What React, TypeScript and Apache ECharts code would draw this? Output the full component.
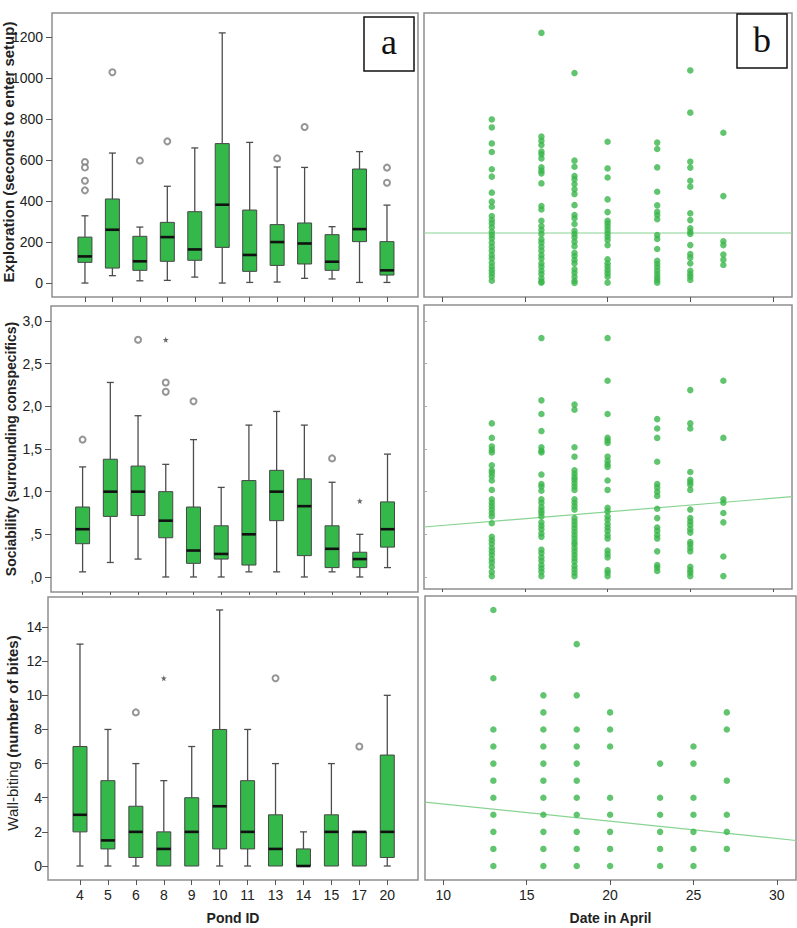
import React, { useEffect, useRef } from "react";
import * as echarts from "echarts";

// ---- Box plots by pond ----
const pondIds = ["4", "5", "6", "8", "9", "10", "11", "13", "14", "15", "17", "20"];

// [min, Q1, median, Q3, max] for each pond
const explorationBoxes = [
  [0, 101, 130, 224, 328],
  [36, 73, 260, 410, 634],
  [11, 62, 106, 228, 273],
  [13, 106, 224, 296, 472],
  [29, 111, 164, 348, 659],
  [0, 174, 382, 680, 1220],
  [3, 57, 137, 356, 686],
  [5, 86, 200, 285, 566],
  [23, 93, 193, 293, 564],
  [20, 62, 104, 236, 275],
  [3, 202, 263, 556, 641],
  [3, 39, 62, 202, 380],
];
// [pond index, value]
const explorationOutliers = [
  [0, 590], [0, 564], [0, 499], [0, 452], [1, 1028], [2, 597], [3, 691],
  [7, 608], [8, 761], [11, 563], [11, 489],
];
const explorationExtremes: number[][] = [];

const sociabilityBoxes = [
  [0.06, 0.39, 0.56, 0.82, 1.29],
  [0.17, 0.71, 1.0, 1.38, 2.28],
  [0.21, 0.72, 1.0, 1.3, 1.89],
  [0, 0.46, 0.66, 1.0, 1.32],
  [0, 0.16, 0.31, 0.82, 1.61],
  [0, 0.21, 0.27, 0.6, 1.05],
  [0.06, 0.14, 0.5, 1.13, 1.78],
  [0.06, 0.66, 1.0, 1.25, 1.94],
  [0, 0.25, 0.83, 1.15, 1.78],
  [0.06, 0.11, 0.33, 0.6, 1.11],
  [0, 0.11, 0.21, 0.29, 0.5],
  [0.11, 0.35, 0.56, 0.88, 1.44],
];
const sociabilityOutliers = [[0, 1.61], [2, 2.78], [3, 2.28], [3, 2.17], [4, 2.06], [9, 1.39]];
const sociabilityExtremes = [[3, 2.78], [10, 0.89]];

const wallBitingBoxes = [
  [0, 2, 3, 7, 13],
  [0, 1, 1.5, 5, 8],
  [0, 0.5, 2, 3.5, 6],
  [0, 0, 1, 2, 5],
  [0, 0, 2, 4, 7],
  [0, 1, 3.5, 8, 15],
  [0, 1, 2, 5, 8],
  [0, 0, 1, 3, 6],
  [0, 0, 0, 1, 2],
  [0, 0, 2, 3, 6],
  [0, 0, 2, 2, 2],
  [0, 0.5, 2, 6.5, 10],
];
const wallBitingOutliers = [[2, 9], [7, 11], [10, 7]];
const wallBitingExtremes = [[3, 11]];

// ---- Individual scores by date ----
const surveyDays = [13, 16, 18, 20, 23, 25, 27];

const explorationByDay = [
  [798, 759, 681, 639, 555, 519, 441, 397, 372, 327, 307, 291, 272, 250, 234, 218, 197, 177, 158, 137, 120, 99, 80, 63, 47, 31, 11],
  [1220, 714, 694, 673, 641, 628, 608, 564, 548, 535, 486, 376, 359, 304, 278, 259, 239, 213, 197, 177, 158, 137, 120, 96, 80, 60, 44, 23, 7, 2],
  [1024, 597, 567, 522, 506, 483, 457, 434, 380, 332, 316, 288, 255, 239, 223, 202, 180, 148, 132, 112, 96, 67, 50, 31, 11, 0],
  [689, 559, 515, 408, 346, 304, 291, 275, 259, 242, 226, 210, 185, 116, 96, 80, 63, 47, 31, 2],
  [685, 654, 564, 445, 379, 348, 332, 311, 234, 215, 166, 109, 93, 77, 60, 44, 28, 15, 2],
  [1037, 831, 592, 563, 499, 470, 340, 307, 267, 250, 239, 185, 141, 124, 96, 60, 44, 31, 15],
  [733, 424, 204, 185, 139, 114, 88],
];

const sociabilityByDay = [
  [1.8, 1.63, 1.53, 1.49, 1.46, 1.31, 1.25, 1.22, 1.18, 1.13, 1.02, 0.91, 0.87, 0.83, 0.79, 0.75, 0.71, 0.63, 0.47, 0.43, 0.39, 0.34, 0.3, 0.26, 0.21, 0.17, 0.12, 0.06, 0.01],
  [2.8, 2.07, 1.91, 1.71, 1.52, 1.48, 1.46, 1.2, 1.09, 1.06, 1.01, 0.91, 0.87, 0.82, 0.78, 0.75, 0.71, 0.64, 0.6, 0.56, 0.51, 0.47, 0.32, 0.28, 0.23, 0.19, 0.14, 0.1, 0.06, 0.01],
  [2.02, 1.96, 1.52, 1.41, 1.25, 1.21, 1.17, 1.14, 1.1, 1.06, 1.02, 0.91, 0.87, 0.83, 0.79, 0.69, 0.65, 0.61, 0.57, 0.53, 0.49, 0.45, 0.41, 0.38, 0.34, 0.3, 0.26, 0.22, 0.18, 0.13, 0.09, 0.05, 0.01],
  [2.8, 2.3, 1.91, 1.63, 1.6, 1.57, 1.41, 1.36, 1.32, 1.29, 1.13, 1.02, 0.81, 0.77, 0.71, 0.67, 0.62, 0.58, 0.54, 0.49, 0.45, 0.31, 0.27, 0.23, 0.08, 0.05, 0.01],
  [1.85, 1.74, 1.63, 1.35, 1.09, 1.05, 1.0, 0.95, 0.8, 0.69, 0.58, 0.54, 0.49, 0.45, 0.3, 0.14, 0.11, 0.07],
  [2.19, 1.8, 1.74, 1.23, 1.14, 1.11, 1.08, 1.02, 0.79, 0.69, 0.65, 0.61, 0.56, 0.52, 0.41, 0.38, 0.34, 0.3, 0.12, 0.08, 0.05, 0.01],
  [2.3, 1.63, 0.91, 0.87, 0.75, 0.64, 0.24, 0.01],
];

const wallBitingByDay = [
  [15, 11, 8, 7, 6, 5, 4, 3, 2, 1, 0],
  [10, 9, 8, 7, 6, 5, 4, 3, 2, 1, 0],
  [13, 10, 8, 7, 6, 5, 4, 3, 2, 1, 0],
  [9, 8, 7, 4, 3, 2, 1, 0],
  [6, 4, 3, 2, 1, 0],
  [7, 6, 4, 3, 2, 1, 0],
  [9, 8, 5, 3, 2, 1],
];

// linear fits: value = intercept + slope * day
const fitIntercepts = [244, 0.444, 4.65];
const fitSlopes = [0, 0.01595, -0.1013];

const FONT = "'Liberation Sans', Arial, Helvetica, sans-serif";
const BOX_GREEN = "#34b84a";
const DOT_GREEN = "#39b54a";
const FIT_GREEN = "#88d492";
const FRAME = "#8e8e8e";
const DAY_MIN = 8.9;
const DAY_MAX = 31.15;

const commaDecimal = (v: number) => {
  const s = v.toFixed(1).replace(".", ",");
  return s.startsWith("0") ? s.slice(1) : s;
};

function boxRenderer(params: any, api: any) {
  const i = api.value(0);
  const lo = api.coord([i, api.value(1)]);
  const q1 = api.coord([i, api.value(2)]);
  const md = api.coord([i, api.value(3)]);
  const q3 = api.coord([i, api.value(4)]);
  const hi = api.coord([i, api.value(5)]);
  const x = lo[0];
  const hw = 7;
  const cw = 3.5;
  const whisker = { stroke: "#4d4d4d", lineWidth: 1.3 };
  const children: any[] = [];
  if (hi[1] < q3[1]) {
    children.push({ type: "line", shape: { x1: x, y1: hi[1], x2: x, y2: q3[1] }, style: whisker });
    children.push({ type: "line", shape: { x1: x - cw, y1: hi[1], x2: x + cw, y2: hi[1] }, style: whisker });
  }
  if (lo[1] > q1[1]) {
    children.push({ type: "line", shape: { x1: x, y1: q1[1], x2: x, y2: lo[1] }, style: whisker });
    children.push({ type: "line", shape: { x1: x - cw, y1: lo[1], x2: x + cw, y2: lo[1] }, style: whisker });
  }
  children.push({
    type: "rect",
    shape: { x: x - hw, y: q3[1], width: hw * 2, height: Math.max(q1[1] - q3[1], 1) },
    style: { fill: BOX_GREEN, stroke: "#474747", lineWidth: 1 },
  });
  children.push({
    type: "line",
    shape: { x1: x - hw, y1: md[1], x2: x + hw, y2: md[1] },
    style: { stroke: "#111", lineWidth: 2.6 },
  });
  return { type: "group", children };
}

const STAR =
  "path://M0,-5L1.2,-1.6L4.8,-1.6L1.9,0.6L2.9,4L0,2L-2.9,4L-1.9,0.6L-4.8,-1.6L-1.2,-1.6Z";

export default function App() {
  const ref = useRef<HTMLDivElement>(null);

  useEffect(() => {
    if (!ref.current) return;
    const chart = echarts.init(ref.current, undefined, { renderer: "svg" });

    const grids = [
      { left: 52, top: 13, width: 366, height: 284 },
      { left: 424, top: 13, width: 368, height: 284 },
      { left: 51, top: 306, width: 367, height: 286 },
      { left: 424, top: 305, width: 368, height: 284 },
      { left: 48, top: 597, width: 370, height: 283 },
      { left: 425, top: 596, width: 371, height: 284 },
    ].map((g) => ({ ...g, show: true, borderColor: FRAME, borderWidth: 1.5, backgroundColor: "#fff" }));

    const pondIdx = pondIds.map((_, i) => i);
    const dayTicks = [10, 15, 20, 25, 30];
    const pondRanges = [
      [-1.2, 12.13],
      [-1.14, 12.1],
      [-1.145, 12.1],
    ];

    const labelStyle = { color: "#222", fontSize: 14, fontFamily: FONT };
    const tickStyle = { lineStyle: { color: "#555", width: 1 } };

    const xAxis: any[] = [];
    for (let r = 0; r < 3; r++) {
      const last = r === 2;
      xAxis.push({
        type: "value",
        gridIndex: r * 2,
        position: "bottom",
        min: pondRanges[r][0],
        max: pondRanges[r][1],
        splitLine: { show: false },
        axisLine: { show: false, onZero: false },
        axisTick: { show: true, length: r === 1 ? 3 : 5, customValues: pondIdx, ...tickStyle },
        axisLabel: {
          show: last,
          customValues: pondIdx,
          formatter: (v: number) => pondIds[Math.round(v)],
          margin: 8,
          ...labelStyle,
        },
        name: last ? "Pond ID" : "",
        nameLocation: "middle",
        nameGap: 31,
        nameTextStyle: { fontWeight: "bold", fontSize: 14, color: "#222", fontFamily: FONT },
      });
      xAxis.push({
        type: "value",
        gridIndex: r * 2 + 1,
        position: "bottom",
        min: DAY_MIN,
        max: DAY_MAX,
        splitLine: { show: false },
        axisLine: { show: false, onZero: false },
        axisTick: { show: true, length: r === 1 ? 3 : 5, customValues: dayTicks, ...tickStyle },
        axisLabel: { show: last, customValues: dayTicks, margin: 8, ...labelStyle },
        name: last ? "Date in April" : "",
        nameLocation: "middle",
        nameGap: 31,
        nameTextStyle: { fontWeight: "bold", fontSize: 14, color: "#222", fontFamily: FONT },
      });
    }

    const yTicks = [
      [0, 200, 400, 600, 800, 1000, 1200],
      [0, 0.5, 1, 1.5, 2, 2.5, 3],
      [0, 2, 4, 6, 8, 10, 12, 14],
    ];
    const yRangesLeft = [
      [-68, 1317],
      [-0.176, 3.176],
      [-0.82, 15.76],
    ];
    const yRangesRight = [
      [-68, 1317],
      [-0.141, 3.1875],
      [-0.82, 15.82],
    ];
    const yMargins = [9, 9, 6];

    const yAxis: any[] = [];
    for (let r = 0; r < 3; r++) {
      yAxis.push({
        type: "value",
        gridIndex: r * 2,
        position: "left",
        min: yRangesLeft[r][0],
        max: yRangesLeft[r][1],
        splitLine: { show: false },
        axisLine: { show: false, onZero: false },
        axisTick: { show: true, length: 6, customValues: yTicks[r], ...tickStyle },
        axisLabel: {
          show: true,
          customValues: yTicks[r],
          margin: yMargins[r],
          formatter: r === 1 ? commaDecimal : (v: number) => String(v),
          ...labelStyle,
        },
      });
      yAxis.push({
        type: "value",
        gridIndex: r * 2 + 1,
        position: "left",
        min: yRangesRight[r][0],
        max: yRangesRight[r][1],
        splitLine: { show: false },
        axisLine: { show: false, onZero: false },
        axisTick: {
          show: r === 1,
          inside: true,
          length: 3,
          customValues: yTicks[r],
          lineStyle: { color: "#aaa", width: 1 },
        },
        axisLabel: { show: false },
      });
    }

    const boxes = [explorationBoxes, sociabilityBoxes, wallBitingBoxes];
    const outliers = [explorationOutliers, sociabilityOutliers, wallBitingOutliers];
    const extremes = [explorationExtremes, sociabilityExtremes, wallBitingExtremes];
    const byDay = [explorationByDay, sociabilityByDay, wallBitingByDay];

    const series: any[] = [];
    for (let r = 0; r < 3; r++) {
      series.push({
        type: "custom",
        xAxisIndex: r * 2,
        yAxisIndex: r * 2,
        renderItem: boxRenderer,
        encode: { x: 0, y: [1, 2, 3, 4, 5] },
        data: boxes[r].map((b, i) => [i, ...b]),
        silent: true,
      });
      series.push({
        type: "scatter",
        xAxisIndex: r * 2,
        yAxisIndex: r * 2,
        symbol: "emptyCircle",
        symbolSize: 6,
        itemStyle: { color: "#7a7a7a", borderWidth: 1.1 },
        data: outliers[r],
        silent: true,
        z: 3,
      });
      series.push({
        type: "scatter",
        xAxisIndex: r * 2,
        yAxisIndex: r * 2,
        symbol: STAR,
        symbolSize: 6,
        itemStyle: { color: "#444" },
        data: extremes[r],
        silent: true,
        z: 3,
      });
      const pts: number[][] = [];
      surveyDays.forEach((d, k) => byDay[r][k].forEach((v) => pts.push([d, v])));
      series.push({
        type: "scatter",
        xAxisIndex: r * 2 + 1,
        yAxisIndex: r * 2 + 1,
        symbol: "circle",
        symbolSize: 6.5,
        itemStyle: { color: DOT_GREEN },
        data: pts,
        silent: true,
        z: 3,
      });
      const a = fitIntercepts[r];
      const b = fitSlopes[r];
      series.push({
        type: "line",
        xAxisIndex: r * 2 + 1,
        yAxisIndex: r * 2 + 1,
        symbol: "none",
        lineStyle: { color: FIT_GREEN, width: 1.2 },
        data: [
          [DAY_MIN, a + b * DAY_MIN],
          [DAY_MAX, a + b * DAY_MAX],
        ],
        silent: true,
        z: 2,
      });
    }

    const titleFont = { fontFamily: FONT, fill: "#222", align: "center", verticalAlign: "middle" };
    const graphic: any[] = [
      {
        type: "text",
        x: 8,
        y: 152,
        rotation: Math.PI / 2,
        style: { ...titleFont, text: "Exploration (seconds to enter setup)", fontSize: 15, fontWeight: "bold" },
      },
      {
        type: "text",
        x: 10.5,
        y: 449,
        rotation: Math.PI / 2,
        style: { ...titleFont, text: "Sociability (surrounding conspecifics)", fontSize: 14, fontWeight: "bold" },
      },
      {
        type: "text",
        x: 12,
        y: 733,
        rotation: Math.PI / 2,
        style: {
          ...titleFont,
          text: "{n|Wall-biting} {b|(number of bites)}",
          rich: {
            n: { fontSize: 15, fontFamily: FONT, fill: "#222" },
            b: { fontSize: 15, fontFamily: FONT, fontWeight: "bold", fill: "#222" },
          },
        },
      },
      {
        type: "rect",
        z: 100,
        shape: { x: 364, y: 17, width: 50, height: 54 },
        style: { fill: "#fff", stroke: "#111", lineWidth: 1.5 },
      },
      {
        type: "text",
        z: 101,
        x: 389,
        y: 42,
        style: {
          text: "a",
          fontSize: 36,
          fontFamily: "'Liberation Serif', 'DejaVu Serif', serif",
          fill: "#111",
          align: "center",
          verticalAlign: "middle",
        },
      },
      {
        type: "rect",
        z: 100,
        shape: { x: 737, y: 14, width: 50, height: 54 },
        style: { fill: "#fff", stroke: "#111", lineWidth: 1.5 },
      },
      {
        type: "text",
        z: 101,
        x: 762,
        y: 40,
        style: {
          text: "b",
          fontSize: 36,
          fontFamily: "'Liberation Serif', 'DejaVu Serif', serif",
          fill: "#111",
          align: "center",
          verticalAlign: "middle",
        },
      },
    ];

    chart.setOption({
      animation: false,
      backgroundColor: "#fff",
      grid: grids,
      xAxis,
      yAxis,
      series,
      graphic,
    });

    return () => chart.dispose();
  }, []);

  return (
    <div
      ref={ref}
      style={{ position: "absolute", left: 0, top: 0, width: 797, height: 928, background: "#fff" }}
    />
  );
}
